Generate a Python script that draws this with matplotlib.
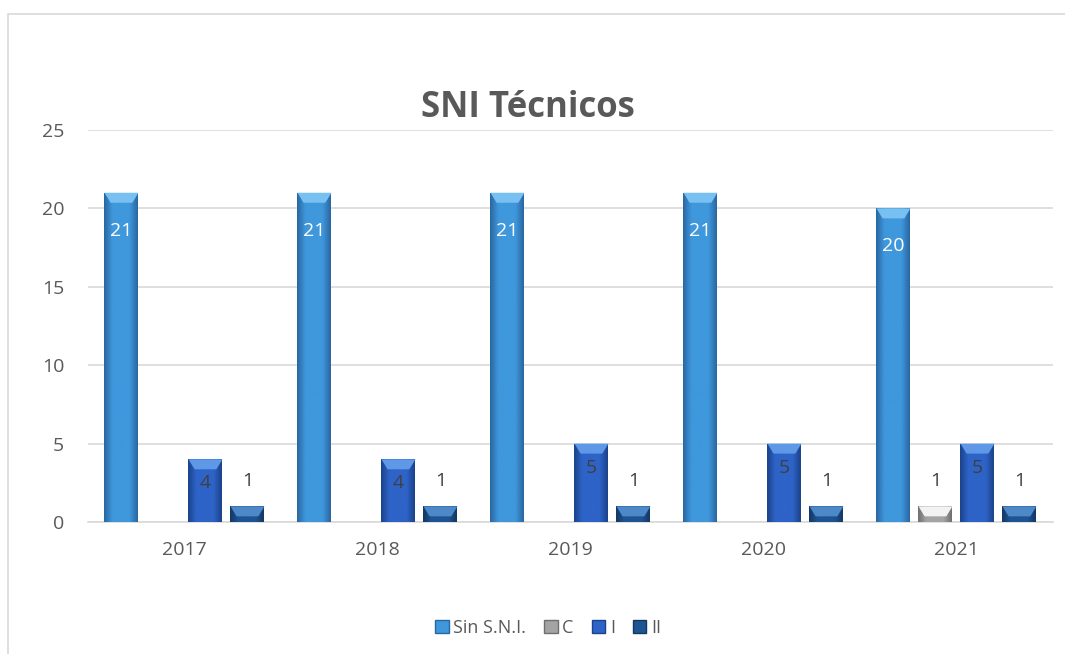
import matplotlib.pyplot as plt
import numpy as np
from matplotlib.colors import LinearSegmentedColormap
from matplotlib.patches import Rectangle, Polygon

plt.rcParams['font.family'] = ['Open Sans', 'DejaVu Sans']

# data
years = ['2017', '2018', '2019', '2020', '2021']
series_names = ['Sin S.N.I.', 'C', 'I', 'II']
sin_sni = [21, 21, 21, 21, 20]
nivel_c = [0, 0, 0, 0, 1]
nivel_1 = [4, 4, 5, 5, 5]
nivel_2 = [1, 1, 1, 1, 1]

# (edge, centre, cap) colours for the bevelled look
styles = {
    'Sin S.N.I.': ('#2a66a0', '#3f98dc', '#78c0f2'),
    'C': ('#6f6f6f', '#a4a4a4', '#f2f2f2'),
    'I': ('#1b438a', '#2e63c8', '#5e98e6'),
    'II': ('#143862', '#1f5494', '#4d88c8'),
}
text_color = '#595959'

fig = plt.figure(figsize=(10.65, 6.54), dpi=100)
ax = fig.add_axes([0.0826, 0.2018, 0.9061, 0.5994])

# chart frame
fig.patches.append(Rectangle((8 / 1065, -0.1), 1.2, 1 - 14 / 654 + 0.1,
                             transform=fig.transFigure, fill=False,
                             edgecolor='#d9d9d9', linewidth=1.2, zorder=0))

x = np.arange(len(years))
step = 0.2176
width = 0.176
all_values = [sin_sni, nivel_c, nivel_1, nivel_2]

ax.set_xlim(-0.5, len(years) - 0.5)
ax.set_ylim(0, 25)

grad = np.abs(np.linspace(-1, 1, 64)).reshape(1, -1)
px_per_unit = ax.get_window_extent().height / 25

for i, (name, vals) in enumerate(zip(series_names, all_values)):
    edge, mid, cap = styles[name]
    cmap = LinearSegmentedColormap.from_list(name, [mid, mid, edge])
    offs = (i - 1.5) * step
    bars = ax.bar(x + offs, vals, width, color=mid, zorder=3, linewidth=0)
    for b, v in zip(bars, vals):
        if v <= 0:
            continue
        x0, w, h = b.get_x(), b.get_width(), b.get_height()
        im = ax.imshow(grad, extent=(x0, x0 + w, 0, h), cmap=cmap,
                       aspect='auto', zorder=3.1, interpolation='bicubic')
        im.set_clip_path(b)
        d = 10 / px_per_unit
        ax.add_patch(Polygon([(x0, h), (x0 + w, h), (x0 + w * 0.82, h - d),
                              (x0 + w * 0.18, h - d)], closed=True,
                             facecolor=cap, edgecolor='none', zorder=3.2))
        if name == 'Sin S.N.I.':
            ax.annotate(str(v), (x0 + w / 2, h), xytext=(0, -38),
                        textcoords='offset pixels', ha='center', va='center',
                        color='white', fontsize=14, zorder=4)
        elif name == 'I':
            ax.annotate(str(v), (x0 + w / 2, h), xytext=(0, -24),
                        textcoords='offset pixels', ha='center', va='center',
                        color='#404040', fontsize=14, zorder=4)
        else:
            ax.annotate(str(v), (x0 + w / 2, h), xytext=(0, 25),
                        textcoords='offset pixels', ha='center', va='center',
                        color='#404040', fontsize=14, zorder=4)

ax.set_xticks(x)
ax.set_xticklabels(years)
ax.set_yticks(range(0, 26, 5))
ax.tick_params(axis='both', length=0, labelsize=14, colors=text_color)
ax.tick_params(axis='x', pad=14)
ax.tick_params(axis='y', pad=17)
ax.grid(axis='y', color='#d9d9d9', linewidth=1.2, zorder=0)
for side in ['top', 'right', 'left']:
    ax.spines[side].set_visible(False)
ax.spines['bottom'].set_color('#d9d9d9')
ax.spines['bottom'].set_linewidth(1.2)

fig.text(528 / 1065, 1 - 108 / 654, 'SNI Técnicos', ha='center', va='center',
         fontsize=25, fontweight='bold', color=text_color)

handles = [Rectangle((0, 0), 1, 1, facecolor=styles[n][1],
                     edgecolor=styles[n][0]) for n in series_names]
fig.legend(handles, series_names, loc='center', ncol=4,
           bbox_to_anchor=(548 / 1065, 1 - 628 / 654), frameon=False,
           fontsize=13, labelcolor=text_color, handlelength=0.75,
           handleheight=0.75, handletextpad=0.25, columnspacing=1.0)

fig.savefig('out.png', dpi=100)
